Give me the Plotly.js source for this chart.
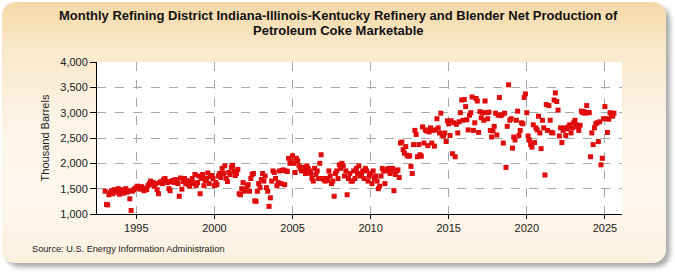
<!DOCTYPE html>
<html>
<head>
<meta charset="utf-8">
<script src="https://cdn.plot.ly/plotly-3.0.1.min.js"></script>
<style>
html,body{margin:0;padding:0;background:#ffffff;width:675px;height:275px;overflow:hidden;}
#frame{position:absolute;left:2px;top:2px;width:664px;height:261px;border-radius:14px;
 background:linear-gradient(to bottom,#f5d9a6 0%,#f9e8cb 18%,#fcf3e4 45%,#fdf7ee 75%,#fbf0de 100%);
 box-shadow:4px 4px 5px rgba(0,0,0,0.35);}
#chart{position:absolute;left:0;top:0;width:675px;height:275px;}
</style>
</head>
<body>
<div id="frame"></div>
<div id="chart"></div>
<script>
// Monthly values (thousand barrels), starting January 1993
const startYear = 1993;
const monthlyValues = [
 // 1993
 1450,1190,1180,1380,1420,1460,1400,1480,1450,1430,1500,1390,
 // 1994
 1440,1480,1410,1470,1500,1430,1460,1300,1070,1450,1480,1500,
 // 1995
 1530,1550,1520,1490,1540,1500,1460,1510,1480,1560,1600,1650,
 // 1996
 1580,1620,1550,1600,1480,1400,1620,1640,1600,1680,1700,1650,
 // 1997
 1620,1500,1460,1640,1660,1620,1680,1650,1600,1350,1710,1490,
 // 1998
 1640,1700,1600,1660,1580,1550,1640,1700,1600,1780,1560,1620,
 // 1999
 1750,1400,1700,1780,1560,1660,1700,1810,1600,1740,1760,1700,
 // 2000
 1560,1620,1580,1750,1800,1720,1900,1800,1950,1700,1640,1820,
 // 2001
 1780,1920,1960,1850,1760,1800,1880,1400,1380,1500,1620,1450,
 // 2002
 1480,1560,1580,1450,1700,1780,1800,1260,1250,1450,1600,1520,
 // 2003
 1680,1800,1650,1750,1520,1450,1150,1320,1650,1850,1820,1700,
 // 2004
 1560,1620,1850,1600,1860,1870,1580,1850,1840,2100,2000,2050,
 // 2005
 2150,2000,1820,2100,2050,1950,1900,1850,1920,1880,1800,1950,
 // 2006
 1900,1850,1800,1700,1650,1900,1780,1850,1700,2000,2170,1700,
 // 2007
 1680,1650,1700,1660,1850,1750,1600,1650,1350,1800,1850,1700,
 // 2008
 1970,1900,2000,1950,1750,1850,1380,1700,1800,1650,1650,1850,
 // 2009
 1700,1900,1800,1950,1750,1800,1850,1700,1900,1850,1650,1750,
 // 2010
 1800,1600,1850,1700,1750,1650,1500,1550,1750,1900,1850,1600,
 // 2011
 1850,1880,1900,1800,1850,1900,1460,1780,1850,1870,1720,2400,
 // 2012
 2420,2270,2200,2330,2160,2140,2150,1940,1800,2370,2650,2570,
 // 2013
 2130,2370,2170,2140,2720,2400,2660,2640,2350,2620,2700,2400,
 // 2014
 2650,2340,2660,2880,2700,2600,2990,2560,2540,2600,2430,2840,
 // 2015
 2780,2550,2840,2190,2800,2130,2770,2600,2820,3000,3250,2850,
 // 2016
 3260,3120,2860,2660,2950,3000,3310,2650,2800,3280,3230,2610,
 // 2017
 3020,2900,3000,2850,3230,3000,2880,3010,2650,2520,2640,2730,
 // 2018
 2990,2560,2950,3300,2940,2960,2400,2990,1920,2730,3550,2850,
 // 2019
 2880,2300,2520,2460,2850,3030,2550,2650,2800,2780,3300,3370,
 // 2020
 3000,2540,2460,2370,2320,2760,2410,2700,2660,2930,2600,2290,
 // 2021
 2850,2700,1770,3160,2650,3140,2850,2610,2600,3250,3390,3220,
 // 2022
 3050,2540,2700,2410,2650,2700,2550,2680,2720,2760,2600,2700,
 // 2023
 2800,2850,2760,2720,2650,2750,3030,3000,3020,2990,3140,3000,
 // 2024
 3000,2130,2600,2370,2700,2780,2800,2430,2820,1970,2100,2880,
 // 2025
 3120,2880,2610,2870,3000,2950,2930,2990
];
const tickYears = [1995,2000,2005,2010,2015,2020,2025];
const yTicks = [1000,1500,2000,2500,3000,3500,4000];
const titleLines = ['Monthly Refining District Indiana-Illinois-Kentucky Refinery and Blender Net Production of',
                    'Petroleum Coke Marketable'];

const dates = monthlyValues.map((v,i)=>{
  const y = startYear + Math.floor(i/12);
  const m = (i%12)+1;
  return y + '-' + (m<10?'0':'') + m + '-01';
});

const trace = {
  x: dates, y: monthlyValues, type:'scatter', mode:'markers',
  marker:{symbol:'square', size:5, color:'#e00c0c', line:{width:0}},
  hoverinfo:'x+y'
};

const font = "'Liberation Sans', Arial, sans-serif";
const titleFont = {family:font, size:13, color:'#111', weight:'bold'};
const layout = {
  width:675, height:275,
  paper_bgcolor:'rgba(0,0,0,0)', plot_bgcolor:'#ffffff',
  margin:{l:97, r:53, t:62, b:61},
  showlegend:false,
  xaxis:{type:'date', range:['1992-06-25','2026-02-05'],
    tickvals: tickYears.map(y=>y+'-01-01'), ticktext: tickYears.map(String),
    showgrid:true, gridcolor:'#a8a8a8', griddash:'dash', gridwidth:1,
    showline:true, linecolor:'#000', linewidth:1,
    ticks:'outside', ticklen:4, tickcolor:'#000',
    tickfont:{family:font, size:11, color:'#222'}, zeroline:false},
  yaxis:{range:[1000,4000], tickvals:yTicks, tickformat:',d',
    showgrid:true, gridcolor:'#a8a8a8', griddash:'dash', gridwidth:1,
    showline:true, linecolor:'#000', linewidth:1,
    ticks:'outside', ticklen:6, tickcolor:'#000',
    tickfont:{family:font, size:11, color:'#222'}, zeroline:false,
    title:{text:'Thousand Barrels', font:{family:font, size:11, color:'#222'}, standoff:8}},
  annotations:[
    {text:'<b>'+titleLines[0]+'</b>', xref:'paper', yref:'paper', x:0.46, y:(214-15)/152,
     xanchor:'center', yanchor:'middle', showarrow:false, font:titleFont},
    {text:'<b>'+titleLines[1]+'</b>', xref:'paper', yref:'paper', x:0.46, y:(214-31)/152,
     xanchor:'center', yanchor:'middle', showarrow:false, font:titleFont},
    {text:'Source: U.S. Energy Information Administration', xref:'paper', yref:'paper',
    x:(30-97)/525, y:(214-249)/152, xanchor:'left', yanchor:'middle', showarrow:false,
    font:{family:font, size:9.2, color:'#222'}}]
};

Plotly.newPlot('chart',[trace],layout,{displayModeBar:false, staticPlot:true});
</script>
</body>
</html>
